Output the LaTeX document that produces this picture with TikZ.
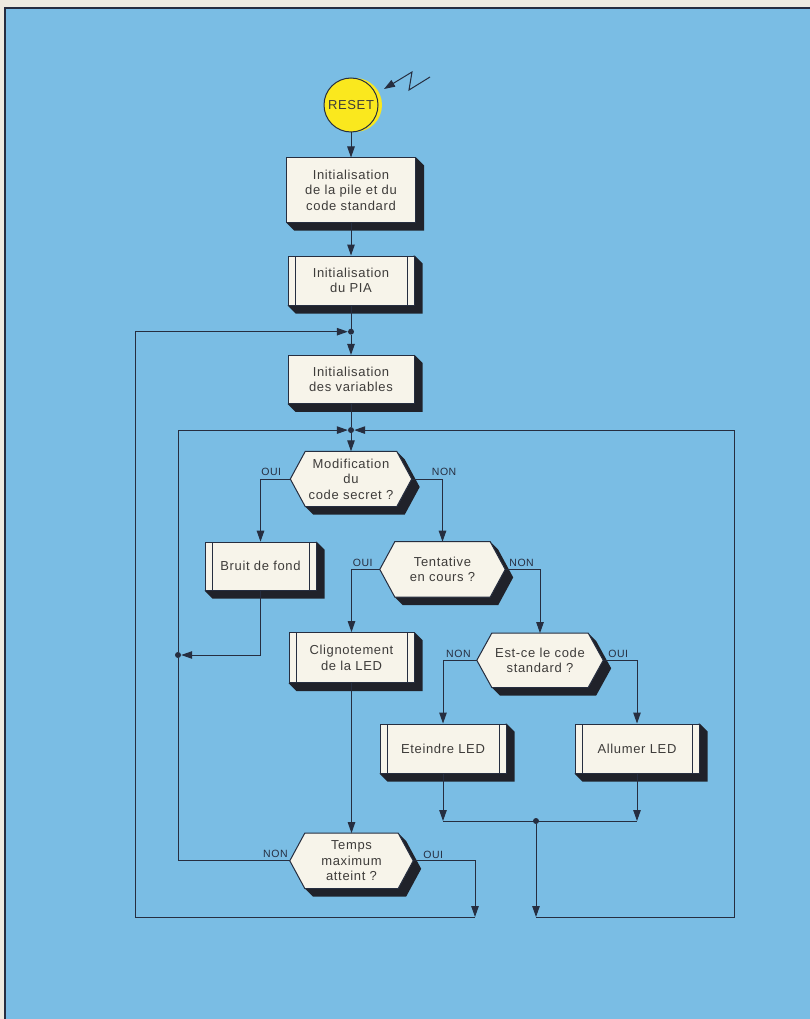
\documentclass[tikz,border=0pt]{standalone}
\usepackage{fontspec}
\setmainfont{Liberation Sans}[LetterSpace=5]
\usetikzlibrary{arrows.meta,positioning,backgrounds}

\definecolor{paper}{RGB}{238,235,224}
\definecolor{panelblue}{RGB}{122,189,228}
\definecolor{cardface}{RGB}{247,244,234}
\definecolor{inkline}{RGB}{38,46,64}
\definecolor{inktext}{RGB}{62,60,58}
\definecolor{shadowink}{RGB}{32,34,42}
\definecolor{resetyellow}{RGB}{250,232,30}

% dark extrusion behind a box
\newcommand\boxdepth[1]{%
  \begin{scope}[on background layer]
    \fill[shadowink] (#1.north east) -- ([shift={(8pt,-8pt)}]#1.north east)
      -- ([shift={(8pt,-8pt)}]#1.south east) -- ([shift={(8pt,-8pt)}]#1.south west)
      -- (#1.south west) -- cycle;
  \end{scope}}
% hexagonal decision face with its extrusion
\newcommand\hexbody[1]{%
  \begin{scope}[on background layer]
    \fill[shadowink] (#1.west) -- ([xshift=15pt]#1.north west) -- ([xshift=-15pt]#1.north east)
      -- ([shift={(-7pt,-8pt)}]#1.north east) -- ([shift={(8pt,-8pt)}]#1.east)
      -- ([shift={(-7pt,-8pt)}]#1.south east) -- ([shift={(23pt,-8pt)}]#1.south west)
      -- ([xshift=15pt]#1.south west) -- cycle;
    \filldraw[fill=cardface, draw=inkline, line width=1pt] (#1.west)
      -- ([xshift=15pt]#1.north west) -- ([xshift=-15pt]#1.north east) -- (#1.east)
      -- ([xshift=-15pt]#1.south east) -- ([xshift=15pt]#1.south west) -- cycle;
  \end{scope}}

\begin{document}
\begin{tikzpicture}[x=1pt, y=-1pt,
  font=\fontsize{13pt}{15.5pt}\selectfont, >={Triangle[length=11pt,width=7.5pt]},
  b/.style={draw=inkline, line width=1pt, fill=cardface, text=inktext, align=center,
            inner sep=2pt, minimum width=126pt, minimum height=49pt},
  sub/.style={b, path picture={
      \draw[inkline, line width=0.7pt]
        ([xshift=7pt]path picture bounding box.north west) -- ([xshift=7pt]path picture bounding box.south west)
        ([xshift=-7pt]path picture bounding box.north east) -- ([xshift=-7pt]path picture bounding box.south east);}},
  dec/.style={text=inktext, align=center, inner sep=0pt, minimum width=122pt, minimum height=55pt},
  start/.style={circle, draw=inkline, line width=1pt, fill=resetyellow, text=inktext,
                inner sep=0pt, minimum size=54pt},
  dot/.style={circle, fill=inkline, inner sep=0pt, minimum size=6pt},
  lbl/.style={font=\fontsize{10.5pt}{12pt}\selectfont, text=inkline, inner sep=1pt},
  a/.style={->, line width=1pt, draw=inkline},
  ln/.style={line width=1pt, draw=inkline},
]
\useasboundingbox (0,0) rectangle (810,1019);
\begin{scope}[on background layer]
  \fill[paper] (0,0) rectangle (810,1019);
  \fill[panelblue] (5,8) rectangle (810,1019);
  \draw[inkline, line width=1.2pt] (810,8) -- (5,8) -- (5,1019);
\end{scope}

% main column
\node[start] (reset) at (351,105) {RESET};
\node[b, below=25pt of reset, minimum width=129pt, minimum height=64pt] (init)
  {Initialisation\\de la pile et du\\code standard};
\node[sub, below=33pt of init] (pia) {Initialisation\\du PIA};
\node[dot, below=23pt of pia] (j1) {};
\node[b, below=20pt of j1, minimum height=48pt] (vars) {Initialisation\\des variables};
\node[dot, below=23pt of vars] (j2) {};
\node[dec, below=18pt of j2, minimum width=121pt] (mod) {Modification\\du\\code secret ?};

% branches
\node[sub, below=35pt of mod, xshift=-90.5pt, minimum width=111pt, minimum height=48pt] (bruit) {Bruit de fond};
\node[dec, below=35pt of mod, xshift=91.5pt, minimum width=125pt] (tent) {Tentative\\en cours ?};
\node[sub, below=35pt of tent, xshift=-91pt, minimum width=125pt, minimum height=50pt] (cli)
  {Clignotement\\de la LED};
\node[dec, below=36pt of tent, xshift=97.5pt, minimum width=126pt, minimum height=54pt] (est)
  {Est-ce le code\\standard ?};
\node[sub, below=36pt of est, xshift=-97pt] (ete) {Eteindre LED};
\node[sub, below=36pt of est, xshift=97pt, minimum width=124pt] (all) {Allumer LED};
\node[dec, below=150pt of cli, minimum width=123pt] (temps) {Temps\\maximum\\atteint ?};

\node[dot] (j3) at (178,655) {};
\node[dot] (j4) at (536,821) {};
\coordinate (lbot) at (475,917);
\coordinate (lcorner) at (135,917);
\coordinate (rcorner) at (734,917);

\boxdepth{init} \boxdepth{pia} \boxdepth{vars} \boxdepth{bruit}
\boxdepth{cli} \boxdepth{ete} \boxdepth{all}
\hexbody{mod} \hexbody{tent} \hexbody{est} \hexbody{temps}
\begin{scope}[on background layer]
  \fill[resetyellow] ([xshift=4pt]reset.center) circle[radius=27pt];
\end{scope}

% labels
\node[lbl, above left=2pt and 8pt of mod.west] (modoui) {OUI};
\node[lbl, above right=2pt and 19pt of mod.east] (modnon) {NON};
\node[lbl, above left=2pt and 6pt of tent.west] (tentoui) {OUI};
\node[lbl, above right=2pt and 3pt of tent.east] (tentnon) {NON};
\node[lbl, above left=2pt and 5pt of est.west] (estnon) {NON};
\node[lbl, above right=2pt and 4pt of est.east] (estoui) {OUI};
\node[lbl, above left=2pt and 1pt of temps.west] (tempsnon) {NON};
\node[lbl, above right=1pt and 9pt of temps.east] (tempsoui) {OUI};

% connectors
\coordinate (zap) at (430,77);
\coordinate (zaptip) at (384,89);
\draw[a] (zap) -- ++(-21,13) -- ++(3,-18) -- (zaptip);
\draw[a] (reset) -- (init);
\draw[a] (init) -- (pia);
\draw[ln] (pia) -- (j1);
\draw[a] (j1) -- (vars);
\draw[ln] (vars) -- (j2);
\draw[a] (j2) -- (mod);
\draw[a] (mod.west) -| (bruit);
\draw[a] (mod.east) -| (tent);
\draw[a] (tent.west) -| (cli);
\draw[a] (tent.east) -| (est);
\draw[a] (est.west) -| (ete);
\draw[a] (est.east) -| (all);
\draw[a] (bruit.south) |- (j3);
\draw[a] (cli) -- (temps);
\draw[a] (ete) -- (ete |- j4);
\draw[a] (all) -- (all |- j4);
\draw[ln] (ete |- j4) -- (all |- j4);
\draw[a] (j4) -- (j4 |- rcorner);
\draw[a] (j4 |- rcorner) -- (rcorner) |- (j2);
\draw[a] (temps.east) -| (lbot);
\draw[a] (lbot) -- (lcorner) |- (j1);
\draw[a] (temps.west) -| (j3) |- (j2);
\end{tikzpicture}
\end{document}
